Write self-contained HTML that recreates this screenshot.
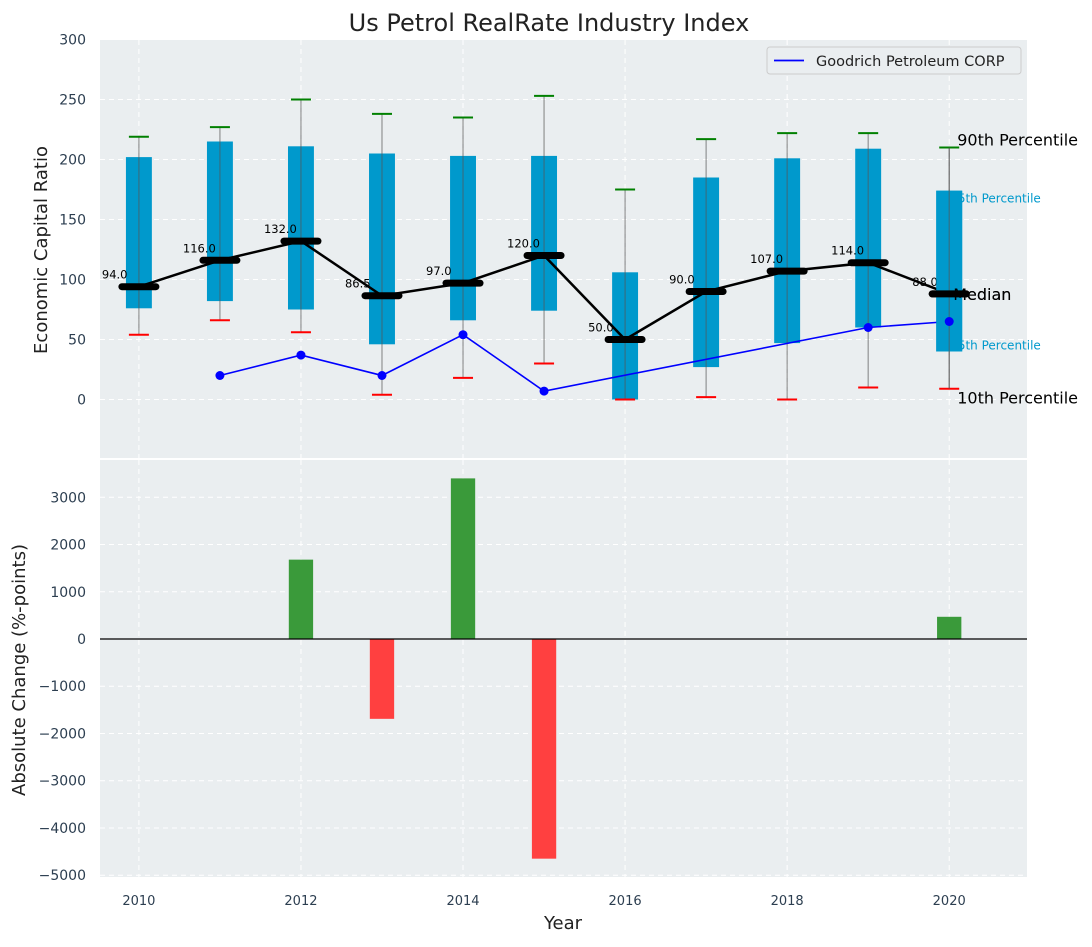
<!DOCTYPE html>
<html><head><meta charset="utf-8"><style>
body{margin:0;background:#fff;font-family:"Liberation Sans","DejaVu Sans",sans-serif}
svg text{font-family:"DejaVu Sans","Liberation Sans",sans-serif}
</style></head><body>
<svg id="c" width="1092" height="942" xmlns="http://www.w3.org/2000/svg"></svg>
<script>
const years=[2010,2011,2012,2013,2014,2015,2016,2017,2018,2019,2020];
const p10=[54,66,56,4,18,30,0,2,0,10,9];
const p25=[76,82,75,46,66,74,0,27,47,60,40];
const median=[94,116,132,86.5,97,120,50,90,107,114,88];
const p75=[202,215,211,205,203,203,106,185,201,209,174];
const p90=[219,227,250,238,235,253,175,217,222,222,210];
const compYears=[2011,2012,2013,2014,2015,2019,2020];
const compVals=[20,37,20,54,7,60,65];
const changeYears=[2012,2013,2014,2015,2020];
const changeVals=[1680,-1690,3400,-4650,470];
const topTicks=[0,50,100,150,200,250,300];
const botTicks=[-5000,-4000,-3000,-2000,-1000,0,1000,2000,3000];
const xTicks=[2010,2012,2014,2016,2018,2020];

const svg=document.getElementById('c');
const NS='http://www.w3.org/2000/svg';
function mk(t,a,p){const e=document.createElementNS(NS,t);for(const k in a)e.setAttribute(k,a[k]);(p||svg).appendChild(e);return e;}
const L=100,R=1027,X0=2009.52,X1=2020.96;
const x=v=>L+(v-X0)/(X1-X0)*(R-L);
const yrPx=(R-L)/(X1-X0);
const T1=40,B1=458,y1=v=>399.5-v*1.2;
const T2=460,B2=877,y2=v=>639-v*0.04724;

let e=mk('rect',{x:L,y:T1,width:R-L,height:B1-T1,fill:'#eaeef0'});


e=mk('rect',{x:L,y:T2,width:R-L,height:B2-T2,fill:'#eaeef0'});



xTicks.forEach(v=>{
 mk('line',{x1:x(v),x2:x(v),y1:T1,y2:B1,stroke:'#fff','stroke-dasharray':'5,4','stroke-width':1});
 mk('line',{x1:x(v),x2:x(v),y1:T2,y2:B2,stroke:'#fff','stroke-dasharray':'5,4','stroke-width':1});
 const t=mk('text',{x:x(v),y:905,'text-anchor':'middle','font-size':13,fill:'#2c3e50'});t.textContent=v;
 
 
});
topTicks.forEach(v=>{
 mk('line',{x1:L,x2:R,y1:y1(v),y2:y1(v),stroke:'#fff','stroke-dasharray':'5,4'});
 const t=mk('text',{x:86,y:y1(v)+5,'text-anchor':'end','font-size':14,fill:'#2c3e50'});t.textContent=v;
 
 
});
botTicks.forEach(v=>{
 mk('line',{x1:L,x2:R,y1:y2(v),y2:y2(v),stroke:'#fff','stroke-dasharray':'5,4'});
 const t=mk('text',{x:86,y:y2(v)+5,'text-anchor':'end','font-size':14,fill:'#2c3e50'});t.textContent=(v<0?'\u2212'+(-v):v);
 
 
});

const bw=0.32*yrPx;
years.forEach((yr,i)=>{
 const cx=x(yr);
 const b=mk('rect',{x:cx-bw/2,y:y1(p75[i]),width:bw,height:y1(p25[i])-y1(p75[i]),fill:'#0099cc'});
 
 
 const w=mk('line',{x1:cx,x2:cx,y1:y1(p90[i]),y2:y1(p10[i]),stroke:'#555','stroke-opacity':0.6,'stroke-width':1.2});
 
 
 const ct=mk('line',{x1:cx-10,x2:cx+10,y1:y1(p90[i]),y2:y1(p90[i]),stroke:'green','stroke-width':2});
 
 
 const cb=mk('line',{x1:cx-10,x2:cx+10,y1:y1(p10[i]),y2:y1(p10[i]),stroke:'red','stroke-width':2});
 
 
});
let d='';years.forEach((yr,i)=>{d+=(i?'L':'M')+x(yr)+','+y1(median[i]);});
e=mk('path',{d:d,fill:'none',stroke:'#000','stroke-width':2.5});


years.forEach((yr,i)=>{
 const m=mk('line',{x1:x(yr)-17,x2:x(yr)+17,y1:y1(median[i]),y2:y1(median[i]),stroke:'#000','stroke-width':7,'stroke-linecap':'round'});
 
 
 const t=mk('text',{x:x(yr)-37,y:y1(median[i])-8,'font-size':11.5,fill:'#000'});t.textContent=median[i].toFixed(1);
 
 
});
d='';compYears.forEach((yr,i)=>{d+=(i?'L':'M')+x(yr)+','+y1(compVals[i]);});
e=mk('path',{d:d,fill:'none',stroke:'#0000ff','stroke-width':1.6});


compYears.forEach((yr,i)=>{
 const c=mk('circle',{cx:x(yr),cy:y1(compVals[i]),r:4.5,fill:'#0000ff'});
 
 
});
const lx=x(2020);
[['90th Percentile',lx+8,y1(p90[10])-2,16,'#000'],['75th Percentile',lx+1,y1(p75[10])+12,12,'#0099cc'],['Median',lx+4,y1(median[10])+6,16,'#000'],['25th Percentile',lx+1,y1(p25[10])-2,12,'#0099cc'],['10th Percentile',lx+8,y1(p10[10])+15,16,'#000']].forEach(a=>{
 const t=mk('text',{x:a[1],y:a[2],'font-size':a[3],fill:a[4]});t.textContent=a[0];
 
 
});
mk('rect',{x:lx-bw/2,y:y1(p75[10]),width:bw,height:y1(p25[10])-y1(p75[10]),fill:'#0099cc'});
mk('line',{x1:lx,x2:lx,y1:y1(p90[10]),y2:y1(p10[10]),stroke:'#555','stroke-opacity':0.6,'stroke-width':1.2});
mk('line',{x1:lx-17,x2:lx+17,y1:y1(median[10]),y2:y1(median[10]),stroke:'#000','stroke-width':7,'stroke-linecap':'round'});
e=mk('text',{x:lx+4,y:y1(median[10])+6,'font-size':16,fill:'#000'});e.textContent='Median';
mk('circle',{cx:lx,cy:y1(compVals[6]),r:4.5,fill:'#0000ff'});

const lg=mk('g',{});


mk('rect',{x:767,y:47,width:254,height:27,rx:3,fill:'#eaeef0',stroke:'#ccc'},lg);
mk('line',{x1:774,x2:804,y1:60.5,y2:60.5,stroke:'#0000ff','stroke-width':1.8},lg);
e=mk('text',{x:816,y:66,'font-size':14.5,fill:'#222'},lg);e.textContent='Goodrich Petroleum CORP';

const barW=0.3*yrPx;
changeYears.forEach((yr,i)=>{
 const v=changeVals[i];
 const b=mk('rect',{x:x(yr)-barW/2,y:Math.min(y2(v),y2(0)),width:barW,height:Math.abs(y2(v)-y2(0)),fill:v>=0?'#3a9a3a':'#ff4040'});
 
 
});
mk('line',{x1:L,x2:R,y1:y2(0),y2:y2(0),stroke:'#000','stroke-width':1.2});

e=mk('text',{x:549,y:31,'text-anchor':'middle','font-size':24,fill:'#222'});e.textContent='Us Petrol RealRate Industry Index';


e=mk('text',{x:0,y:0,'text-anchor':'middle','font-size':18,fill:'#222',transform:'translate(47,250) rotate(-90)'});e.textContent='Economic Capital Ratio';


e=mk('text',{x:0,y:0,'text-anchor':'middle','font-size':18,fill:'#222',transform:'translate(25,670) rotate(-90)'});e.textContent='Absolute Change (%-points)';


e=mk('text',{x:563,y:929,'text-anchor':'middle','font-size':18,fill:'#222'});e.textContent='Year';


</script>
</body></html>
